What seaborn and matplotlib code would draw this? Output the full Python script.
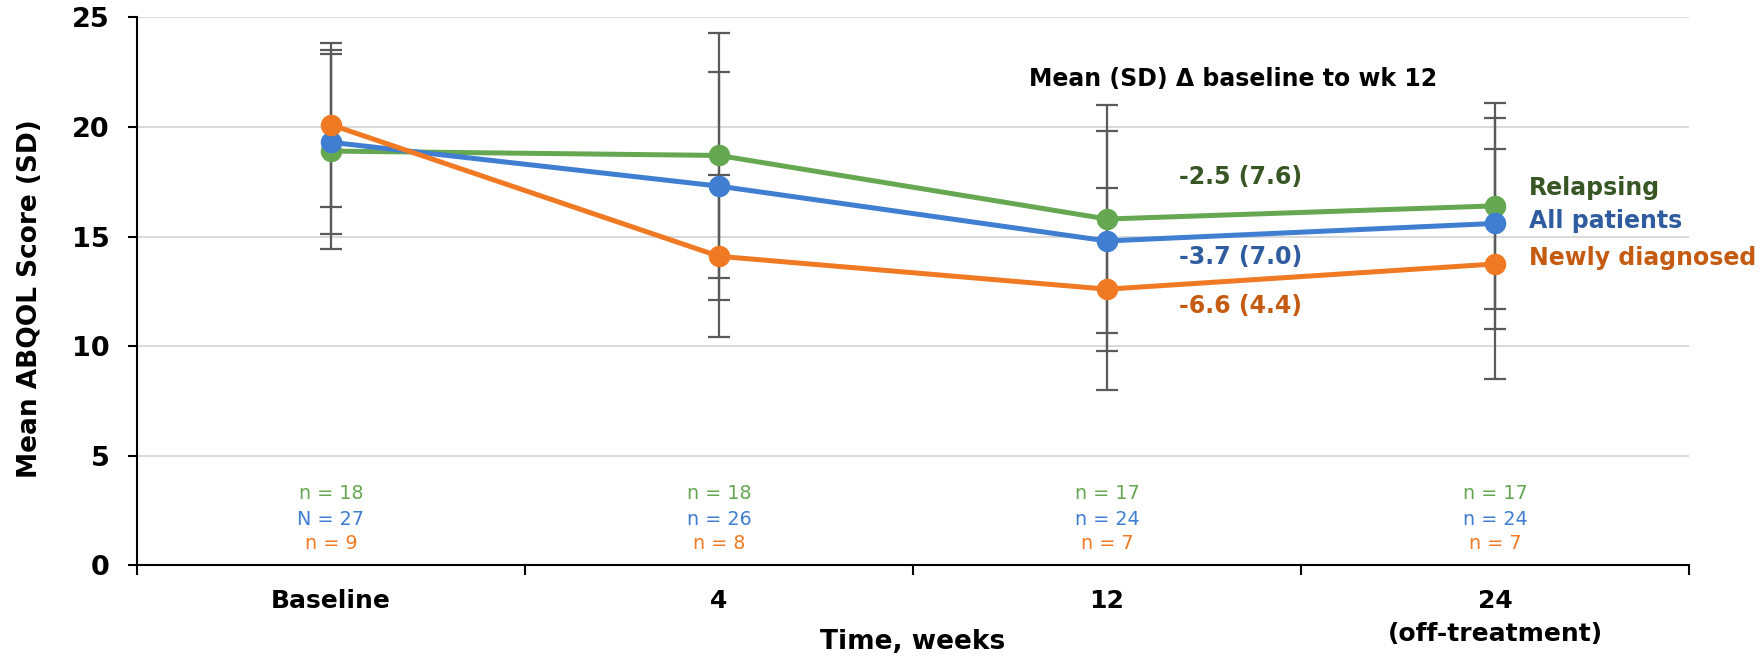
import numpy as np
import pandas as pd
import matplotlib
matplotlib.use('Agg')
import matplotlib.pyplot as plt
import seaborn as sns

# Time points (categorical x axis)
weeks = ['Baseline', '4', '12', '24\n(off-treatment)']

# Group names and values
groups = ['Relapsing', 'All patients', 'Newly diagnosed']
relapsing_mean = [18.9, 18.7, 15.8, 16.4]
relapsing_sd = [4.45, 5.6, 5.2, 4.7]
all_mean = [19.3, 17.3, 14.8, 15.6]
all_sd = [4.2, 5.2, 5.0, 4.8]
newly_mean = [20.1, 14.1, 12.6, 13.75]
newly_sd = [3.75, 3.7, 4.6, 5.25]

# Sample sizes per time point
relapsing_n = ['n = 18', 'n = 18', 'n = 17', 'n = 17']
all_n = ['N = 27', 'n = 26', 'n = 24', 'n = 24']
newly_n = ['n = 9', 'n = 8', 'n = 7', 'n = 7']

# Change from baseline to week 12
delta_labels = ['-2.5 (7.6)', '-3.7 (7.0)', '-6.6 (4.4)']
delta_y = [17.7, 14.05, 11.85]
legend_y = [17.2, 15.7, 14.0]
n_y = [3.3, 2.1, 1.0]

line_colors = ['#66A852', '#3F7ED0', '#F07A24']
text_colors = ['#375623', '#2E5C9E', '#C55A11']

means = [relapsing_mean, all_mean, newly_mean]
sds = [relapsing_sd, all_sd, newly_sd]
ns = [relapsing_n, all_n, newly_n]

pos = np.arange(len(weeks))
df = pd.concat([
    pd.DataFrame({'pos': pos, 'score': m, 'sd': s, 'group': g})
    for g, m, s in zip(groups, means, sds)
], ignore_index=True)

sns.set_style('white')
plt.rcParams['font.family'] = ['DejaVu Sans']
plt.rcParams['text.color'] = 'black'
plt.rcParams['xtick.color'] = 'black'
plt.rcParams['ytick.color'] = 'black'

fig = plt.figure(figsize=(17.65, 6.59), dpi=100)
ax = fig.add_axes([0.0776, 0.142, 0.957 - 0.0776, 0.9737 - 0.142])

# error bars behind the lines
for g in groups:
    sub = df[df['group'] == g]
    ax.errorbar(sub['pos'], sub['score'], yerr=sub['sd'], fmt='none',
                ecolor='#5A5A5A', elinewidth=1.6, capsize=8, capthick=1.6,
                zorder=1.5)

sns.lineplot(data=df, x='pos', y='score', hue='group', hue_order=groups,
             palette=line_colors, marker='o', markersize=15.5,
             markeredgewidth=0, linewidth=3.6, legend=False, ax=ax, zorder=3)

ax.set_xlim(-0.5, len(weeks) - 0.5)
ax.set_ylim(0, 25)
ax.set_yticks([0, 5, 10, 15, 20, 25])
ax.yaxis.grid(True, color='#D9D9D9', linewidth=1.4)
ax.set_axisbelow(True)

# ticks at category boundaries, labels at the centres
ax.set_xticks(np.arange(len(weeks) + 1) - 0.5)
ax.set_xticklabels([])
ax.set_xticks(pos, minor=True)
ax.set_xticklabels(weeks, minor=True, fontsize=18, fontweight='bold',
                   va='top', linespacing=1.45)
ax.tick_params(axis='x', which='major', bottom=True, length=7, width=1.5,
               direction='out', color='black')
ax.tick_params(axis='x', which='minor', bottom=True, length=0, pad=17)
ax.tick_params(axis='y', left=True, length=6.5, width=1.5, direction='out',
               color='black', pad=13, labelsize=19.5)
for lab in ax.get_yticklabels():
    lab.set_fontweight('bold')

for side in ['top', 'right']:
    ax.spines[side].set_visible(False)
for side in ['left', 'bottom']:
    ax.spines[side].set_color('black')
    ax.spines[side].set_linewidth(1.5)

ax.set_xlabel('')
ax.set_ylabel('')
fig.text(0.5 * (0.0776 + 0.957), 1 - 642 / 659, 'Time, weeks', ha='center',
         va='center', fontsize=19, fontweight='bold')
fig.text(0.017, 1 - 299 / 659, 'Mean ABQOL Score (SD)', rotation=90,
         ha='center', va='center', fontsize=19, fontweight='bold')

# sample sizes under each time point
for i in range(len(weeks)):
    for k in range(len(groups)):
        ax.text(pos[i], n_y[k], ns[k][i], ha='center', va='center',
                fontsize=13.8, color=line_colors[k])

# change from baseline annotations
ax.text(2.325, 22.2, 'Mean (SD) \u0394 baseline to wk 12', ha='center',
        va='center', fontsize=17, fontweight='bold', color='black')
for k in range(len(groups)):
    ax.text(2.343, delta_y[k], delta_labels[k], ha='center', va='center',
            fontsize=17, fontweight='bold', color=text_colors[k])

# direct labels for the groups
for k, g in enumerate(groups):
    ax.text(3.088, legend_y[k], g, ha='left', va='center', fontsize=17,
            fontweight='bold', color=text_colors[k], clip_on=False)

fig.savefig('out.png', dpi=100)
plt.close(fig)
